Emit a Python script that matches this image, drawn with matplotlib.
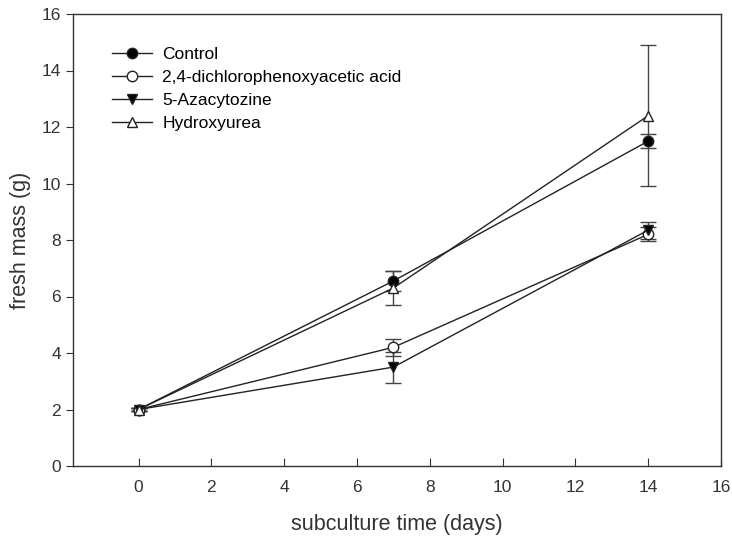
import numpy as np
import matplotlib.pyplot as plt

plt.rcParams['font.family'] = ['Liberation Sans', 'DejaVu Sans']

days = [0, 7, 14]

control = [2.0, 6.55, 11.5]
control_err = [0.05, 0.35, 0.25]
dichloro = [2.0, 4.2, 8.2]
dichloro_err = [0.05, 0.3, 0.25]
aza = [2.0, 3.5, 8.35]
aza_err = [0.05, 0.55, 0.3]
hydroxy = [2.0, 6.3, 12.4]
hydroxy_err = [0.05, 0.6, 2.5]

fig = plt.figure(figsize=(7.32, 5.39), dpi=100)
ax = fig.add_axes([73 / 732, 1 - 466 / 539, 648 / 732, 452 / 539])

series = [
    ('Control', control, control_err, 'o', 'black'),
    ('2,4-dichlorophenoxyacetic acid', dichloro, dichloro_err, 'o', 'white'),
    ('5-Azacytozine', aza, aza_err, 'v', 'black'),
    ('Hydroxyurea', hydroxy, hydroxy_err, '^', 'white'),
]

handles = []
for label, vals, err, m, fc in series:
    cont = ax.errorbar(days, vals, yerr=err, color='#222222', lw=1.0, marker=m,
                       markersize=7.5, markerfacecolor=fc, markeredgecolor='#222222',
                       ecolor='#444444', elinewidth=1.0, capsize=6, capthick=1.0,
                       label=label)
    handles.append(cont.lines[0])

ax.set_xlim(-1.8, 16)
ax.set_ylim(0, 16)
ax.set_xticks(range(0, 17, 2))
ax.set_yticks(range(0, 17, 2))
ax.tick_params(axis='x', direction='in', length=6, top=False, labelsize=12.5,
               pad=10, colors='#333333')
ax.tick_params(axis='y', direction='out', length=5, right=False, labelsize=12.5,
               colors='#333333')
for s in ax.spines.values():
    s.set_color('#333333')
    s.set_linewidth(1.0)

ax.set_xlabel('subculture time (days)', fontsize=15.5, color='#333333', labelpad=14)
ax.set_ylabel('fresh mass (g)', fontsize=15.5, color='#333333', labelpad=8)

ax.legend(handles, [s[0] for s in series], loc='upper left',
          bbox_to_anchor=(0.06, 0.927), frameon=False,
          fontsize=12.5, handlelength=2.3, labelspacing=0.45,
          handletextpad=0.6, borderaxespad=0, borderpad=0)

fig.savefig('out.png', dpi=100)
